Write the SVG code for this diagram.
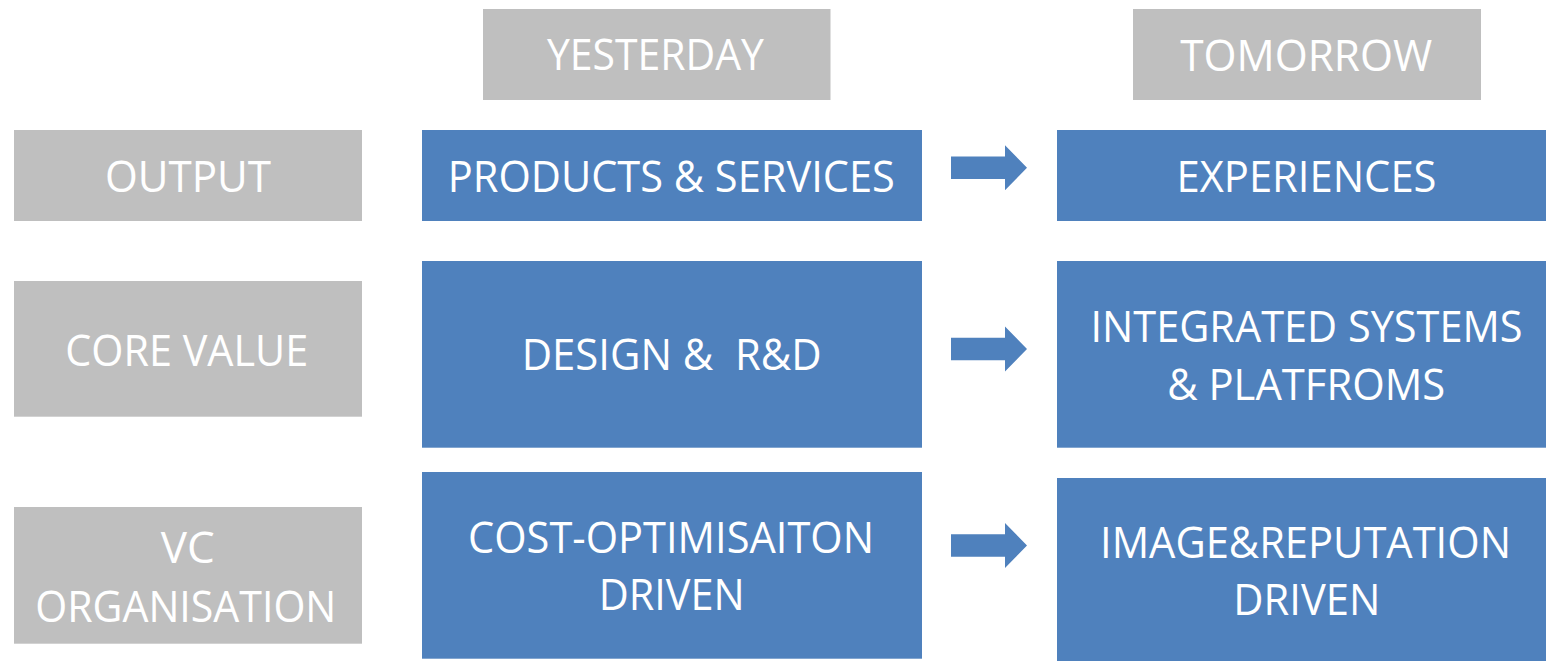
<svg xmlns="http://www.w3.org/2000/svg" xmlns:xlink="http://www.w3.org/1999/xlink" width="1546" height="661" viewBox="0 0 1546 661">
  <style>
    .grey { fill: #BFBFBF; }
    .blue { fill: #4F81BD; }
    .label { fill: #FFFFFF; font-family: "Open Sans", "Noto Sans", "Liberation Sans", sans-serif; font-size: 44px; text-anchor: middle; }
  </style>
  <defs>
    <!-- block arrow centred on y = 0 -->
    <path id="blockArrow" class="blue" d="M951,-11.3 H1005 V-22.5 L1027,0 L1005,22.5 V11.3 H951 Z"/>
  </defs>
  <rect width="1546" height="661" fill="#FFFFFF"/>

  <!-- column headers -->
  <g id="yesterday">
    <rect class="grey" x="483" y="9" width="347.5" height="91"/>
    <text class="label" x="655.5" y="70" textLength="217" lengthAdjust="spacingAndGlyphs">YESTERDAY</text>
  </g>
  <g id="tomorrow">
    <rect class="grey" x="1133" y="9" width="348" height="91"/>
    <text class="label" x="1306.2" y="70.7" textLength="252" lengthAdjust="spacingAndGlyphs">TOMORROW</text>
  </g>

  <!-- row headers -->
  <g id="output">
    <rect class="grey" x="14" y="130" width="348" height="91"/>
    <text class="label" x="188" y="191.7" textLength="166" lengthAdjust="spacingAndGlyphs">OUTPUT</text>
  </g>
  <g id="core-value">
    <rect class="grey" x="14" y="281" width="348" height="135.7"/>
    <text class="label" x="186.7" y="365.7" textLength="243" lengthAdjust="spacingAndGlyphs">CORE VALUE</text>
  </g>
  <g id="vc-organisation">
    <rect class="grey" x="14" y="507" width="348" height="136.7"/>
    <text class="label" x="187.8" y="563.3" textLength="54" lengthAdjust="spacingAndGlyphs">VC</text>
    <text class="label" x="185.8" y="621.7" textLength="301" lengthAdjust="spacingAndGlyphs">ORGANISATION</text>
  </g>

  <!-- yesterday column -->
  <g id="products-services">
    <rect class="blue" x="422" y="130" width="500" height="91"/>
    <text class="label" x="671.3" y="191.7" textLength="447" lengthAdjust="spacingAndGlyphs">PRODUCTS &amp; SERVICES</text>
  </g>
  <g id="design-rd">
    <rect class="blue" x="422" y="261" width="500" height="186.7"/>
    <text class="label" x="671.7" y="370" textLength="300" lengthAdjust="spacingAndGlyphs" xml:space="preserve">DESIGN &amp;  R&amp;D</text>
  </g>
  <g id="cost-optimisation">
    <rect class="blue" x="422" y="472" width="500" height="186.7"/>
    <text class="label" x="671" y="552.7" textLength="406" lengthAdjust="spacingAndGlyphs">COST-OPTIMISAITON</text>
    <text class="label" x="671.7" y="610" textLength="146" lengthAdjust="spacingAndGlyphs">DRIVEN</text>
  </g>

  <!-- tomorrow column -->
  <g id="experiences">
    <rect class="blue" x="1057" y="130" width="489" height="91"/>
    <text class="label" x="1306.5" y="191.7" textLength="260" lengthAdjust="spacingAndGlyphs">EXPERIENCES</text>
  </g>
  <g id="integrated-systems">
    <rect class="blue" x="1057" y="261" width="489" height="186.7"/>
    <text class="label" x="1306.5" y="341.7" textLength="432" lengthAdjust="spacingAndGlyphs">INTEGRATED SYSTEMS</text>
    <text class="label" x="1306.2" y="400" textLength="278" lengthAdjust="spacingAndGlyphs">&amp; PLATFROMS</text>
  </g>
  <g id="image-reputation">
    <rect class="blue" x="1057" y="478" width="489" height="183"/>
    <text class="label" x="1305.5" y="557.7" textLength="411" lengthAdjust="spacingAndGlyphs">IMAGE&amp;REPUTATION</text>
    <text class="label" x="1306.8" y="615" textLength="147" lengthAdjust="spacingAndGlyphs">DRIVEN</text>
  </g>

  <!-- connectors: block arrows from yesterday to tomorrow -->
  <g id="connectors">
    <use xlink:href="#blockArrow" href="#blockArrow" transform="translate(0,167.7)"/>
    <use xlink:href="#blockArrow" href="#blockArrow" transform="translate(0,349)"/>
    <use xlink:href="#blockArrow" href="#blockArrow" transform="translate(0,545.5)"/>
  </g>
</svg>
